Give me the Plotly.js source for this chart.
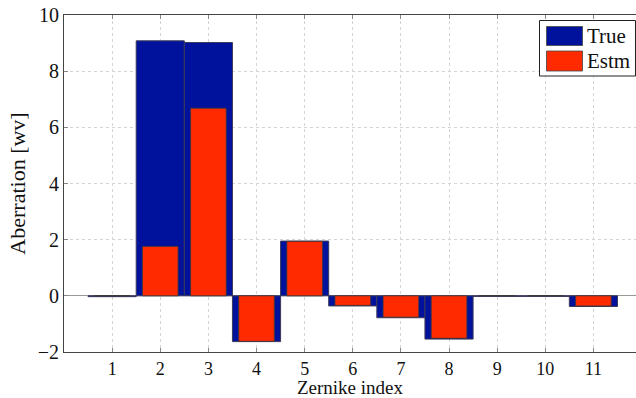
<!DOCTYPE html>
<html><head><meta charset="utf-8">
<script src="https://cdn.plot.ly/plotly-3.0.1.min.js"></script>
<style>html,body{margin:0;padding:0;background:#fff}#chart{width:636px;height:398px}</style>
</head><body><div id="chart"></div>
<script>
const zernikeIndex = [1,2,3,4,5,6,7,8,9,10,11];
const trueValues = [-0.03, 9.08, 9.02, -1.63, 1.95, -0.36, -0.78, -1.54, -0.02, -0.02, -0.38];
const estmValues = [0.01, 1.76, 6.68, -1.62, 1.94, -0.34, -0.76, -1.51, 0.01, 0.01, -0.36];
const seriesNames = ['True', 'Estm'];
const seriesColors = ['#00129c', '#ff2a00'];
const yTicks = [-2, 0, 2, 4, 6, 8, 10];

const font = "'Liberation Serif', 'Times New Roman', serif";
const W = 636, H = 398, M = {l:64, r:0, t:15, b:46};
const px = v => (v - M.l) / (W - M.l - M.r);
const py = v => (H - M.b - v) / (H - M.t - M.b);

const traces = [
  {type:'bar', x: zernikeIndex, y: trueValues, name: seriesNames[0], width: 1,
   marker:{color:seriesColors[0], line:{color:'#3a3a5a', width:1}}},
  {type:'bar', x: zernikeIndex, y: estmValues, name: seriesNames[1], width: 0.74,
   marker:{color:seriesColors[1], line:{color:'#3a3a3a', width:0.8}}}
];

const shapes = [
  {type:'rect', xref:'paper', yref:'paper', x0:px(539.5), x1:px(635.5), y0:py(76), y1:py(20.5),
   line:{color:'#222', width:1}, fillcolor:'#fff', layer:'above'},
  {type:'rect', xref:'paper', yref:'paper', x0:px(546.5), x1:px(582.5), y0:py(45.5), y1:py(26.5),
   line:{color:'#444', width:0.8}, fillcolor:seriesColors[0], layer:'above'},
  {type:'rect', xref:'paper', yref:'paper', x0:px(546.5), x1:px(582.5), y0:py(71), y1:py(51),
   line:{color:'#444', width:0.8}, fillcolor:seriesColors[1], layer:'above'}
];
const annotations = [
  {xref:'paper', yref:'paper', x:px(585), y:py(36), xanchor:'left', yanchor:'middle', showarrow:false,
   text:seriesNames[0], font:{family:font, size:21, color:'#111'}},
  {xref:'paper', yref:'paper', x:px(585), y:py(61), xanchor:'left', yanchor:'middle', showarrow:false,
   text:seriesNames[1], font:{family:font, size:21, color:'#111'}}
];

const layout = {
  width:W, height:H,
  margin:M,
  barmode:'overlay',
  paper_bgcolor:'#fff', plot_bgcolor:'#fff',
  font:{family:font, size:20, color:'#111'},
  showlegend:false,
  shapes, annotations,
  xaxis:{range:[0, 11.885], tickmode:'array', tickvals: zernikeIndex, ticktext: zernikeIndex.map(String),
    showgrid:true, gridcolor:'#d4d4d4', griddash:'dot', gridwidth:1,
    zeroline:false, showline:true, linecolor:'#444', linewidth:1, mirror:'ticks',
    ticks:'inside', ticklen:4, tickcolor:'#888', tickfont:{family:font, size:18}, ticklabelstandoff:0,
    title:{text:'Zernike index', standoff:3, font:{family:font, size:19}}},
  yaxis:{range:[-2, 10], tickmode:'array', tickvals: yTicks, ticktext: yTicks.map(v => v < 0 ? '\u2212' + Math.abs(v) : String(v)),
    showgrid:true, gridcolor:'#d4d4d4', griddash:'dot', gridwidth:1,
    zeroline:true, zerolinecolor:'#999', zerolinewidth:1,
    showline:true, linecolor:'#444', linewidth:1, mirror:false,
    ticks:'inside', ticklen:4, tickcolor:'#888', tickfont:{family:font, size:20},
    title:{text:'Aberration [wv]', standoff:6, font:{family:font, size:22}}}
};
Plotly.newPlot('chart', traces, layout, {staticPlot:true, displayModeBar:false});
</script></body></html>
